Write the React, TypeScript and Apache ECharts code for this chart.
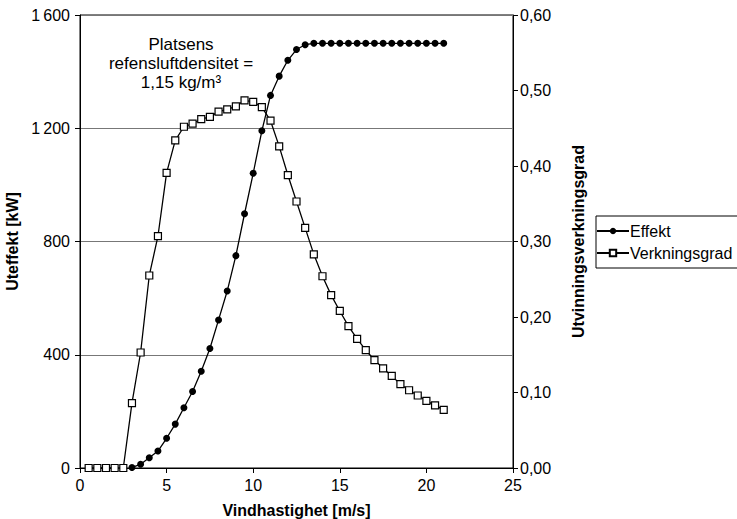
import React, { useEffect, useRef } from "react";
import * as echarts from "echarts";

const windSpeedEffekt = [3, 3.5, 4, 4.5, 5, 5.5, 6, 6.5, 7, 7.5, 8, 8.5, 9, 9.5, 10, 10.5, 11, 11.5, 12, 12.5, 13, 13.5, 14, 14.5, 15, 15.5, 16, 16.5, 17, 17.5, 18, 18.5, 19, 19.5, 20, 20.5, 21];
const effekt = [2, 13, 36, 60, 105, 155, 213, 270, 342, 422, 523, 625, 750, 898, 1041, 1191, 1316, 1384, 1440, 1478, 1495, 1500, 1500, 1500, 1500, 1500, 1500, 1500, 1500, 1500, 1500, 1500, 1500, 1500, 1500, 1500, 1500];

const windSpeedVerk = [0.5, 1, 1.5, 2, 2.5, 3, 3.5, 4, 4.5, 5, 5.5, 6, 6.5, 7, 7.5, 8, 8.5, 9, 9.5, 10, 10.5, 11, 11.5, 12, 12.5, 13, 13.5, 14, 14.5, 15, 15.5, 16, 16.5, 17, 17.5, 18, 18.5, 19, 19.5, 20, 20.5, 21];
const verkningsgrad = [0, 0, 0, 0, 0, 0.086, 0.153, 0.255, 0.307, 0.391, 0.434, 0.452, 0.456, 0.462, 0.465, 0.472, 0.475, 0.479, 0.487, 0.485, 0.478, 0.46, 0.426, 0.388, 0.353, 0.318, 0.283, 0.254, 0.229, 0.208, 0.188, 0.171, 0.156, 0.143, 0.132, 0.122, 0.111, 0.103, 0.096, 0.089, 0.083, 0.077];

const leftTicks = [0, 400, 800, 1200, 1600];
const rightTicks = [0, 0.1, 0.2, 0.3, 0.4, 0.5, 0.6];
const annotationLines = ["Platsens", "refensluftdensitet =", "1,15 kg/m³"];

const FONT = "'Liberation Sans', Arial, Helvetica, sans-serif";

export default function App() {
  const ref = useRef<HTMLDivElement>(null);
  useEffect(() => {
    if (!ref.current) return;
    const chart = echarts.init(ref.current, undefined, { renderer: "svg" });
    const option: any = {
      animation: false,
      backgroundColor: "#fff",
      textStyle: { fontFamily: FONT },
      grid: {
        left: 80,
        right: 224,
        top: 15,
        bottom: 51,
        outerBoundsMode: "none",
        containLabel: false,
        show: true,
        borderColor: "#000",
        borderWidth: 1,
      },
      legend: {
        orient: "vertical",
        left: 596,
        top: 216,
        backgroundColor: "#fff",
        borderColor: "#000",
        borderWidth: 1,
        borderRadius: 0,
        padding: [7, 8, 7, 0],
        itemGap: 6,
        itemWidth: 32,
        itemHeight: 8,
        textStyle: { fontSize: 16, color: "#000", fontFamily: FONT, padding: [0, 0, 0, -4] },
        data: ["Effekt", "Verkningsgrad"],
      },
      xAxis: {
        type: "value",
        min: 0,
        max: 25,
        interval: 5,
        name: "Vindhastighet [m/s]",
        nameLocation: "middle",
        nameGap: 34,
        nameTextStyle: { fontSize: 16, fontWeight: "bold", color: "#000", fontFamily: FONT },
        axisLine: { show: true, lineStyle: { color: "#000", width: 1 } },
        axisTick: { show: true, inside: false, length: 5, lineStyle: { color: "#000" } },
        axisLabel: { fontSize: 16, color: "#000", margin: 9, fontFamily: FONT },
        splitLine: { show: false },
      },
      yAxis: [
        {
          type: "value",
          min: 0,
          max: 1600,
          interval: 400,
          name: "Uteffekt [kW]",
          nameLocation: "middle",
          nameGap: 58,
          nameTextStyle: { fontSize: 16, fontWeight: "bold", color: "#000", fontFamily: FONT },
          axisLine: { show: true, lineStyle: { color: "#000", width: 1 } },
          axisTick: { show: true, length: 5, lineStyle: { color: "#000" } },
          axisLabel: {
            fontSize: 16,
            color: "#000",
            margin: 10,
            fontFamily: FONT,
            formatter: (v: number) => (leftTicks.includes(v) ? (v >= 1000 ? String(v).replace(/^(\d)(\d{3})$/, "$1\u2009$2") : String(v)) : ""),
          },
          splitLine: { show: true, lineStyle: { color: "#777", width: 1 } },
        },
        {
          type: "value",
          min: 0,
          max: 0.6,
          interval: 0.1,
          position: "right",
          name: "Utvinningsverkningsgrad",
          nameLocation: "middle",
          nameGap: 57,
          nameRotate: 90,
          nameTextStyle: { fontSize: 16, fontWeight: "bold", color: "#000", fontFamily: FONT },
          axisLine: { show: true, lineStyle: { color: "#000", width: 1 } },
          axisTick: { show: true, length: 5, lineStyle: { color: "#000" } },
          axisLabel: {
            fontSize: 16,
            color: "#000",
            margin: 7,
            fontFamily: FONT,
            formatter: (v: number) => (rightTicks.some((t) => Math.abs(t - v) < 1e-9) ? v.toFixed(2).replace(".", ",") : ""),
          },
          splitLine: { show: false },
        },
      ],
      graphic: annotationLines.map((t, i) => ({
        type: "text",
        x: 181,
        y: 36 + i * 19,
        style: {
          text: t,
          textAlign: "center",
          fontSize: 17,
          fill: "#000",
          fontFamily: FONT,
        },
      })),
      series: [
        {
          name: "Effekt",
          type: "line",
          yAxisIndex: 0,
          data: windSpeedEffekt.map((x, i) => [x, effekt[i]]),
          symbol: "circle",
          symbolSize: 7,
          itemStyle: { color: "#000" },
          lineStyle: { color: "#000", width: 1.3 },
          z: 2,
        },
        {
          name: "Verkningsgrad",
          type: "line",
          yAxisIndex: 1,
          data: windSpeedVerk.map((x, i) => [x, verkningsgrad[i]]),
          symbol: "rect",
          symbolSize: 7,
          itemStyle: { color: "#fff", borderColor: "#000", borderWidth: 1.2 },
          lineStyle: { color: "#000", width: 1.3 },
          z: 3,
        },
      ],
    };
    chart.setOption(option);
    return () => chart.dispose();
  }, []);
  return <div ref={ref} style={{ width: 737, height: 519, position: "absolute", left: 0, top: 0 }} />;
}
